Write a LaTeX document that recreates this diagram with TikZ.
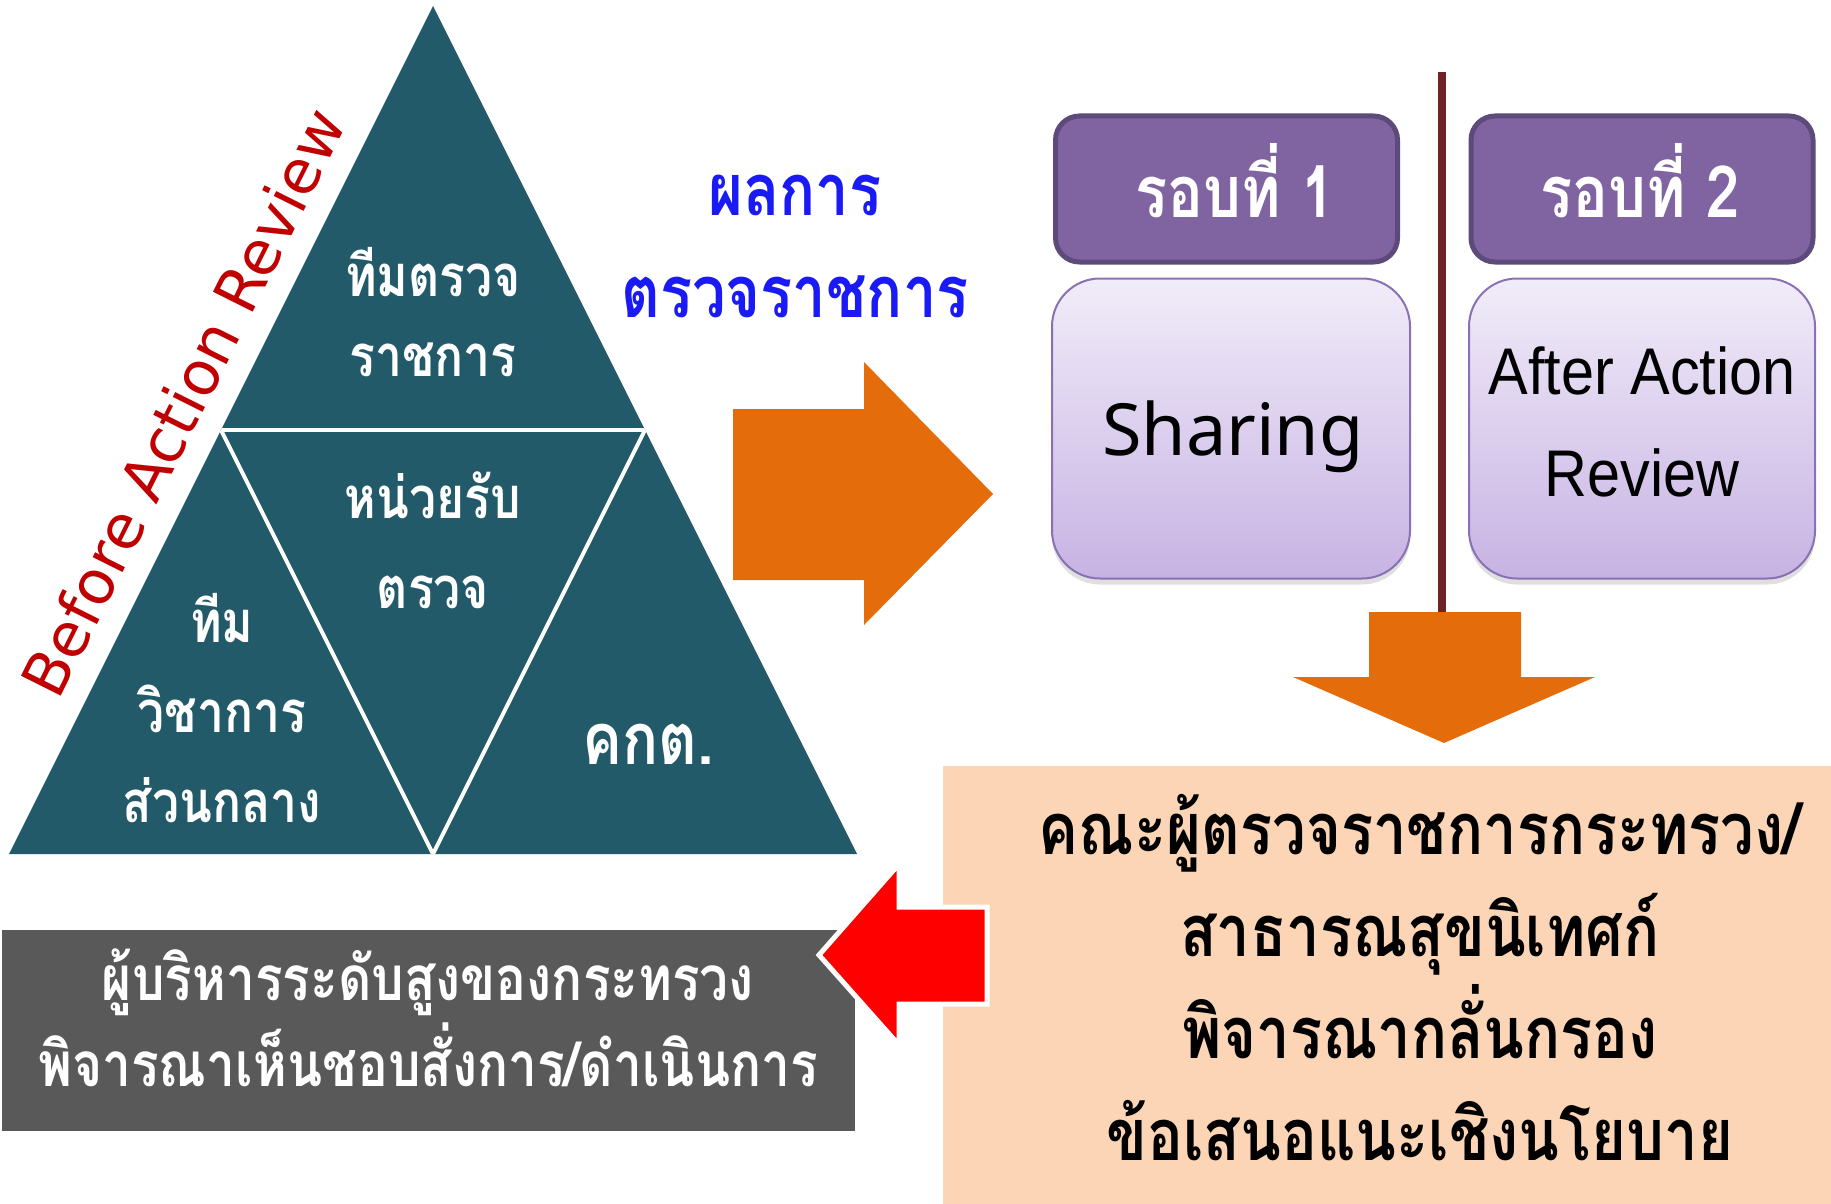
\documentclass[tikz,border=0pt]{standalone}
\usepackage{fontspec}
\usetikzlibrary{shadows}
\newfontfamily\thai[Script=Thai,FakeStretch=0.83]{Loma}
\newfontfamily\latsans{Noto Sans}
\newfontfamily\latarial[FakeStretch=0.9]{Liberation Sans}
\newfontfamily\dejav{DejaVu Sans}
\definecolor{teal}{HTML}{235A6A}
\definecolor{orng}{HTML}{E46C0A}
\definecolor{maroon}{HTML}{6E2424}
\definecolor{hdrfill}{HTML}{8064A2}
\definecolor{hdrline}{HTML}{5C4A7A}
\definecolor{boxtop}{HTML}{F1ECF9}
\definecolor{boxbot}{HTML}{C7B3E3}
\definecolor{boxline}{HTML}{8A70B5}
\definecolor{peach}{HTML}{FBD5B5}
\definecolor{darkgray}{HTML}{595959}
\definecolor{bluetxt}{HTML}{1A1AF5}
\definecolor{redtxt}{HTML}{C00000}
\definecolor{redarrow}{HTML}{FF0000}
\tikzset{
  tri/.style={fill=teal},
  sepline/.style={draw=white, line width=2pt},
  tritext/.style={text=white, font=\thai\bfseries\fontsize{29}{45}\selectfont, align=center, inner sep=0pt},
  bluetext/.style={text=bluetxt, font=\thai\bfseries\fontsize{36}{51}\selectfont, align=center, inner sep=0pt},
  hdr/.style={fill=hdrfill, draw=hdrline, line width=2.5pt, rounded corners=12pt,
    minimum width=171pt, minimum height=73pt},
  hdrtext/.style={text=white, inner sep=0pt, font=\thai\bfseries\fontsize{36}{40}\selectfont},
  gbox/.style={draw=boxline, line width=1pt, rounded corners=24pt, top color=boxtop, bottom color=boxbot,
    minimum height=150pt, drop shadow={shadow xshift=0pt, shadow yshift=-3pt, opacity=0.25}},
  blockarrow/.style={fill=orng},
  redblock/.style={fill=redarrow, draw=white, line width=2.5pt},
  peachtext/.style={text=black, font=\thai\bfseries\fontsize{36}{51}\selectfont, align=center, inner sep=0pt},
  graytext/.style={text=white, font=\thai\bfseries\fontsize{31}{43}\selectfont, align=center, inner sep=0pt},
}
\begin{document}
\begin{tikzpicture}[x=0.5pt, y=-0.5pt]
\useasboundingbox (0,0) rectangle (1831,1204);
% pyramid
\fill[tri] (433,6) -- (857,854) -- (9,854) -- cycle;
\begin{scope}
  \clip (433,6) -- (857,854) -- (9,854) -- cycle;
  \draw[sepline] (0,430) -- (900,430);
  \draw[sepline] (221,430) -- (433,854) -- (645,430);
\end{scope}
\node[tritext, font=\thai\bfseries\fontsize{29}{40}\selectfont] (ttop) at (433,312) {ทีมตรวจ\\ราชการ};
\node[tritext] (tmid) at (433,540) {หน่วยรับ\\ตรวจ};
\node[tritext] (tleft) at (222,708) {ทีม\\วิชาการ\\ส่วนกลาง};
\node[tritext, font=\thai\bfseries\fontsize{36}{45}\selectfont] (tright) at (648,744) {คกต.};
\node[text=redtxt, font=\dejav\fontsize{30.5}{34}\selectfont, rotate=63.43, inner sep=0pt] (bar) at (183,402) {Before Action Review};
% blue text
\node[bluetext] (result) at (795,246) {ผลการ\\ตรวจราชการ};
% right orange arrow
\fill[blockarrow] (733,409) -- (864,409) -- (864,362) -- (993,494) -- (864,625) -- (864,580) -- (733,580) -- cycle;
% vertical divider
\draw[maroon, line width=4pt] (1442,72) -- (1442,614);
% headers
\node[hdr] (r1) at (1226.5,189) {};
\node[hdrtext] (r1t) at (1235,181) {รอบที่ 1};
\node[hdr] (r2) at (1642,189) {};
\node[hdrtext] (r2t) at (1640,181) {รอบที่ 2};
% gradient boxes
\node[gbox, minimum width=179pt] (sharing) at (1231,428.5) {};
\node[font=\latsans\fontsize{36}{40}\selectfont, inner sep=0pt] (sharingt) at (1233,437) {Sharing};
\node[gbox, minimum width=173pt] (aar) at (1642,428.5) {};
\node[align=center, font=\latarial\fontsize{33}{51}\selectfont, inner sep=0pt] (aart) at (1642,422) {After Action\\Review};
% down arrow
\fill[blockarrow] (1369,612) -- (1521,612) -- (1521,677) -- (1595,677) -- (1444,743) -- (1293,677) -- (1369,677) -- cycle;
% gray box
\fill[darkgray] (2,930) rectangle (855,1131);
\node[graytext] (exec) at (428,1018) {ผู้บริหารระดับสูงของกระทรวง\\พิจารณาเห็นชอบสั่งการ/ดำเนินการ};
% peach box
\fill[peach] (943,766) rectangle (1831,1204);
\node[peachtext] (committee) at (1420,978) {คณะผู้ตรวจราชการกระทรวง/\\สาธารณสุขนิเทศก์\\พิจารณากลั่นกรอง\\ข้อเสนอแนะเชิงนโยบาย};
% red arrow
\draw[redblock] (987,907) -- (899,907) -- (899,864) -- (819,955) -- (899,1045) -- (899,1004) -- (987,1004) -- cycle;
\end{tikzpicture}
\end{document}
